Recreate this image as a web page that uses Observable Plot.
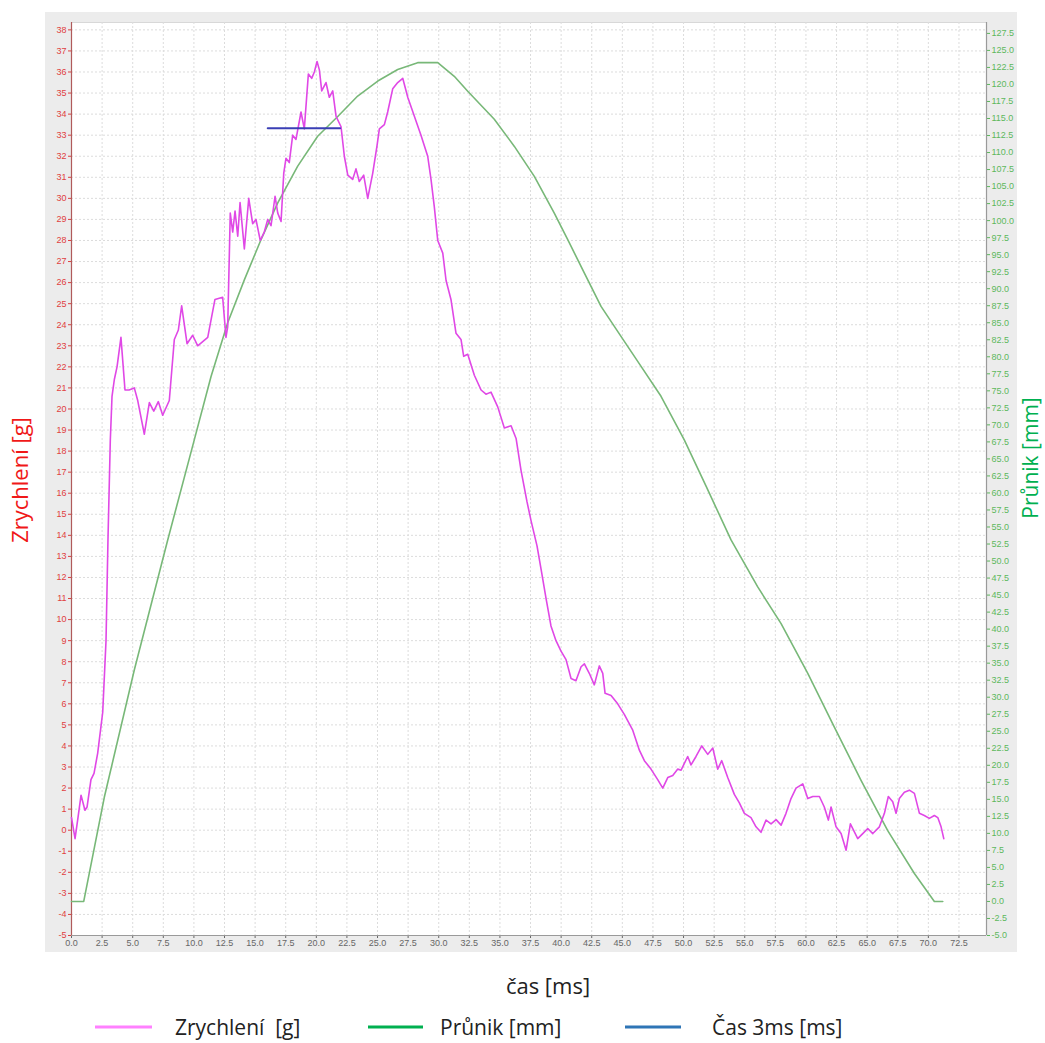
<!DOCTYPE html>
<html><head><meta charset="utf-8">
<script src="https://cdn.jsdelivr.net/npm/d3@7"></script>
<script src="https://cdn.jsdelivr.net/npm/@observablehq/plot@0.6"></script>
<style>
body{margin:0;background:#fff;font-family:"Open Sans",sans-serif;}
#wrap{position:relative;width:1045px;height:1043px;overflow:hidden;}
#panel{position:absolute;left:45px;top:12px;width:972px;height:940px;background:#ececec;}
#chart{position:absolute;left:0;top:0;}
.ttl{position:absolute;font-size:22px;white-space:nowrap;transform:translate(-50%,-50%);}
.rot{transform:translate(-50%,-50%) rotate(-90deg);}
.lg{position:absolute;top:1027px;height:3px;transform:translateY(-50%);}
.lt{position:absolute;top:1027px;font-size:21px;color:#222;transform:translateY(-50%);white-space:nowrap;}
</style>
</head><body>
<div id="wrap">
  <div id="panel"></div>
  <div id="chart"></div>
  <div class="ttl rot" style="left:19px;top:480px;color:#f01818;">Zrychlení [g]</div>
  <div class="ttl rot" style="left:1030px;top:458px;color:#00b050;font-size:21px;">Průnik [mm]</div>
  <div class="ttl" style="left:548px;top:985px;color:#222;">čas [ms]</div>
  <div class="lg" style="left:95px;width:57px;background:#ff80ff;"></div>
  <div class="lt" style="left:175px;">Zrychlení&nbsp; [g]</div>
  <div class="lg" style="left:368px;width:55px;background:#00b050;"></div>
  <div class="lt" style="left:440px;">Průnik [mm]</div>
  <div class="lg" style="left:625px;width:56px;background:#2e75b6;"></div>
  <div class="lt" style="left:712px;">Čas 3ms [ms]</div>
</div>
<script>
// Zrychlení [g] — time (ms) and acceleration (g)
const accT = [0.0,0.29,0.53,0.78,1.10,1.27,1.59,1.84,2.14,2.55,2.82,2.98,3.17,3.31,3.50,3.72,4.04,4.37,4.70,5.13,5.41,5.68,5.95,6.36,6.72,7.09,7.45,7.99,8.40,8.73,9.00,9.44,9.90,10.31,11.13,11.72,12.35,12.62,12.76,12.97,13.17,13.36,13.58,13.77,14.12,14.48,14.80,15.07,15.42,15.75,16.03,16.30,16.63,16.85,17.12,17.34,17.52,17.79,18.07,18.34,18.75,19.02,19.35,19.62,19.84,20.06,20.25,20.44,20.79,21.06,21.34,21.61,22.02,22.29,22.57,22.97,23.24,23.51,23.87,24.20,24.61,24.96,25.15,25.56,25.83,26.24,26.65,27.06,27.47,28.01,28.55,29.10,29.37,29.64,29.92,30.33,30.60,31.00,31.41,31.82,32.04,32.37,32.91,33.46,33.86,34.27,34.82,35.36,35.91,36.32,36.72,37.21,37.54,38.03,38.36,38.77,39.17,39.58,39.99,40.40,40.81,41.21,41.63,41.90,42.30,42.71,43.12,43.40,43.59,44.08,44.62,45.16,45.85,46.39,46.80,47.34,47.89,48.30,48.71,49.12,49.53,49.80,50.34,50.61,51.02,51.49,51.98,52.39,52.79,53.12,53.61,54.15,54.56,54.97,55.51,55.92,56.33,56.74,57.15,57.56,57.97,58.37,58.78,59.19,59.74,60.15,60.56,61.10,61.50,61.83,62.05,62.46,62.87,63.28,63.63,64.23,64.64,65.05,65.46,66.00,66.41,66.73,67.09,67.36,67.63,68.04,68.45,68.86,69.27,69.67,70.08,70.49,70.77,71.04,71.26];
const accG = [0.6,-0.4,0.6,1.66,0.95,1.1,2.4,2.7,3.66,5.6,9.0,13.8,18.5,20.6,21.4,22.0,23.4,20.9,20.9,21.0,20.4,19.6,18.8,20.3,19.9,20.35,19.7,20.4,23.3,23.75,24.9,23.1,23.5,23.0,23.4,25.2,25.3,23.4,23.9,29.3,28.4,29.4,28.2,29.8,27.6,30.0,28.8,29.0,28.0,28.4,29.0,28.7,30.1,29.3,28.9,31.2,31.9,31.7,33.0,32.8,34.1,33.3,35.9,35.7,36.0,36.5,36.1,35.1,35.5,34.8,35.1,33.9,33.4,32.0,31.1,30.9,31.4,30.8,31.1,30.0,31.2,32.5,33.3,33.5,34.1,35.2,35.5,35.7,34.8,33.9,33.0,32.0,30.9,29.6,28.0,27.4,26.1,25.2,23.6,23.3,22.5,22.6,21.6,20.9,20.7,20.8,20.1,19.1,19.2,18.6,17.1,15.6,14.7,13.5,12.4,11.0,9.7,9.0,8.5,8.1,7.2,7.1,7.76,7.9,7.45,6.9,7.8,7.45,6.5,6.4,6.0,5.5,4.75,3.8,3.3,2.9,2.4,2.0,2.5,2.6,2.9,2.85,3.5,3.1,3.5,4.0,3.6,3.9,2.9,3.3,2.5,1.7,1.3,0.8,0.6,0.16,-0.1,0.48,0.3,0.5,0.24,0.8,1.5,2.0,2.2,1.5,1.6,1.6,1.1,0.48,1.1,0.16,-0.16,-0.95,0.3,-0.4,-0.16,0.08,-0.16,0.16,0.8,1.6,1.35,0.8,1.5,1.8,1.9,1.75,0.8,0.7,0.56,0.7,0.6,0.16,-0.4];

// Průnik [mm] — time (ms) and penetration (mm)
const prT = [0,1.0,2.68,5.13,7.86,10.03,11.40,12.76,14.12,15.48,16.85,18.48,20.11,21.75,23.38,25.02,26.65,28.28,29.92,31.27,32.37,34.54,36.18,37.81,39.44,40.54,41.90,43.26,44.89,46.53,48.16,50.06,51.84,53.88,56.06,57.97,60.15,62.32,64.50,66.68,68.86,70.49,71.18];
const prMM = [0,0,15.3,34.0,53.1,67.8,77.1,85.0,91.3,97.2,102.6,108.0,112.4,115.3,118.3,120.5,122.2,123.2,123.2,121.2,119.0,114.9,110.9,106.5,101.1,97.2,92.3,87.4,83.0,78.6,74.2,67.8,61.0,53.1,46.2,40.8,33.5,25.6,17.8,10.4,4.1,0,0];

// Čas 3ms [ms]
const casT = [16.03, 21.94];
const casG = [33.33, 33.33];

// Tick labels
const leftTicks = d3.range(-5, 39, 1);
const rightTicks = d3.range(-5, 128, 2.5);
const xTicks = d3.range(0, 75, 2.5);

const yMin = -5, yMax = 38.35;       // left scale (g)
const rMin = -5, rMax = 129.1;       // right scale (mm)
const K = (yMax - yMin) / (rMax - rMin);
const toLeft = w => yMin + (w - rMin) * K;
const toRight = v => (v - yMin) / K + rMin;

const acc = accT.map((t, i) => ({t, v: accG[i]}));
const pr = prT.map((t, i) => ({t, v: toLeft(prMM[i])}));
const cas = casT.map((t, i) => ({t, v: casG[i]}));

const xMax = 74.75;

const chart = Plot.plot({
  width: 1045, height: 960,
  marginLeft: 71, marginRight: 59, marginTop: 22, marginBottom: 25,
  style: {background: "transparent", fontFamily: "'Liberation Sans', Arial, sans-serif"},
  x: {domain: [0, xMax], label: null},
  y: {domain: [yMin, yMax], label: null},
  marks: [
    Plot.frame({fill: "white", stroke: "#d8d8d8"}),
    Plot.gridX(xTicks, {stroke: "#dcdcdc", strokeOpacity: 1, strokeDasharray: "2,2"}),
    Plot.gridY(leftTicks, {stroke: "#dcdcdc", strokeOpacity: 1, strokeDasharray: "2,2"}),
    Plot.axisY(leftTicks, {anchor: "left", label: null, tickSize: 3, tickPadding: 2, fontSize: 9, color: "#e04040", tickFormat: d => String(d)}),
    Plot.ruleX([0], {stroke: "#b05a5a", strokeWidth: 1.2}),
    Plot.axisY(rightTicks.map(toLeft), {anchor: "right", label: null, tickSize: 3, tickPadding: 2, fontSize: 9, color: "#5cb85c",
      tickFormat: d => { const w = Math.round(toRight(d) / 2.5) * 2.5; return (w === 0 ? 0 : w).toFixed(1); }}),
    Plot.ruleX([xMax], {stroke: "#9a9a9a", strokeWidth: 1.2}),
    Plot.axisX(xTicks, {anchor: "bottom", label: null, tickSize: 3, tickPadding: 1, fontSize: 9, color: "#666", tickFormat: d => d.toFixed(1)}),
    Plot.ruleY([yMin], {stroke: "#9a9a9a", strokeWidth: 1.2}),
    Plot.line(pr, {x: "t", y: "v", stroke: "#78b878", strokeWidth: 1.6}),
    Plot.line(acc, {x: "t", y: "v", stroke: "#e048e6", strokeWidth: 1.6}),
    Plot.line(cas, {x: "t", y: "v", stroke: "#3a3fb5", strokeWidth: 2})
  ]
});
document.getElementById("chart").appendChild(chart);
</script>
</body></html>
